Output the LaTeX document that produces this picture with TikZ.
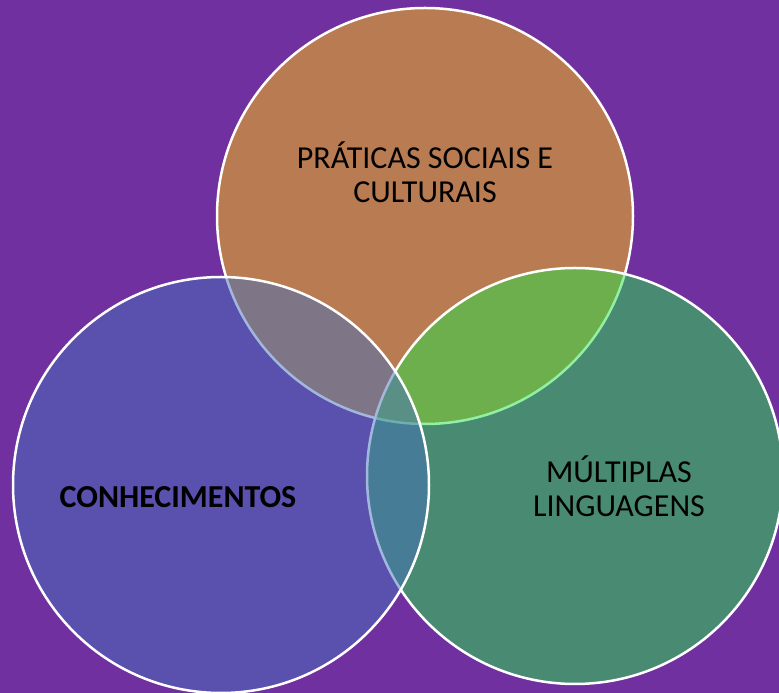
\documentclass[tikz,border=0pt]{standalone}
\usepackage{fontspec}
\setmainfont{Carlito}
\definecolor{bgpurple}{RGB}{112,48,160}
\definecolor{toporange}{RGB}{184,123,82}
\definecolor{rightgreen}{RGB}{36,228,72}
\definecolor{leftblue}{RGB}{70,112,188}
\tikzset{
    venn/.style={circle, draw=white, line width=2.5pt, minimum size=416pt, inner sep=0pt},
    vlabel/.style={align=center, text=black, font=\fontsize{32}{34}\selectfont}
}

\begin{document}
\begin{tikzpicture}[x=1pt, y=1pt]

    % background
    \fill[bgpurple] (0,0) rectangle (779,693);
    \useasboundingbox (0,0) rectangle (779,693);

    % the three circles, top one opaque, the others half see-through
    \node[venn, fill=toporange] (praticas) at (425,477) {};
    \node[venn, fill=rightgreen, fill opacity=0.5] (linguagens) at (575,217) {};
    \node[venn, fill=leftblue, fill opacity=0.5] (conhecimentos) at (221,208) {};

    % labels
    \node[vlabel] (praticaslabel) at (425,521) {PRÁTICAS SOCIAIS E\\CULTURAIS};
    \node[vlabel] (linguagenslabel) at (619,207) {MÚLTIPLAS\\LINGUAGENS};
    \node[vlabel, font=\fontsize{32}{34}\selectfont\bfseries] (conhecimentoslabel) at (178,196) {CONHECIMENTOS};

\end{tikzpicture}
\end{document}
